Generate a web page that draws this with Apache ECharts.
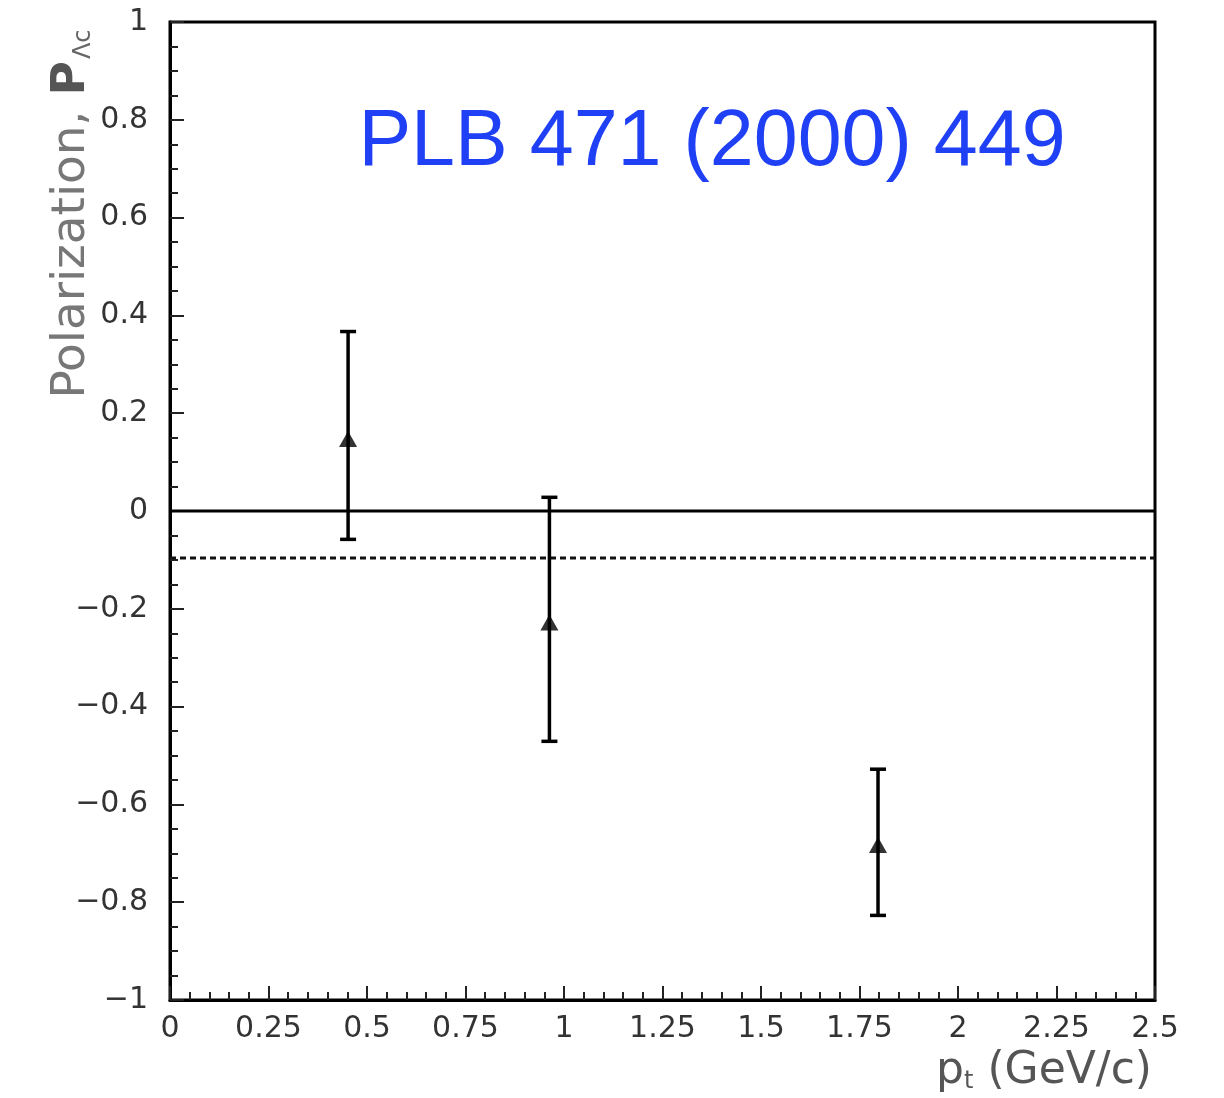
<!DOCTYPE html>
<html>
<head>
<meta charset="utf-8">
<script src="https://cdn.jsdelivr.net/npm/echarts@6/dist/echarts.min.js"></script>
<style>html,body{margin:0;padding:0;background:#fff}#c{width:1224px;height:1098px}</style>
</head>
<body>
<div id="c"></div>
<script>
// Data
var ptValues = [0.452, 0.963, 1.797];
var polValues = [0.147, -0.228, -0.683];
var errHigh = [0.367, 0.028, -0.528];
var errLow = [-0.058, -0.471, -0.827];
var zeroLine = 0;
var dashedLevel = -0.096;
var xRange = [0, 2.5];
var yRange = [-1, 1];

var chart = echarts.init(document.getElementById('c'));
var fmt = function (v) {
  var s = String(Math.round(v * 100) / 100);
  return s.replace('-', '\u2212');
};
var labelFont = 'DejaVu Sans';

var points = ptValues.map(function (x, i) { return [x, polValues[i]]; });
var bars = ptValues.map(function (x, i) { return [x, errLow[i], errHigh[i]]; });

chart.setOption({
  animation: false,
  backgroundColor: '#fff',
  grid: { left: 170, right: 69, top: 22, bottom: 98, show: true, borderColor: '#000', borderWidth: 3, backgroundColor: 'transparent' },
  xAxis: {
    type: 'value', min: xRange[0], max: xRange[1], interval: 0.25,
    axisLine: { show: true, onZero: false, lineStyle: { color: '#000', width: 3 } },
    axisTick: { show: true, inside: true, length: 14, lineStyle: { color: '#222', width: 2 } },
    minorTick: { show: true, splitNumber: 5, length: 8, lineStyle: { color: '#222', width: 2 } },
    splitLine: { show: false },
    axisLabel: { margin: 14, color: '#333', fontSize: 30, fontFamily: labelFont, formatter: fmt }
  },
  yAxis: {
    type: 'value', min: yRange[0], max: yRange[1], interval: 0.2,
    axisLine: { show: true, onZero: false, lineStyle: { color: '#000', width: 3 } },
    axisTick: { show: true, inside: true, length: 14, lineStyle: { color: '#222', width: 2 } },
    minorTick: { show: true, splitNumber: 4, length: 8, lineStyle: { color: '#222', width: 2 } },
    splitLine: { show: false },
    axisLabel: { margin: 22, color: '#333', fontSize: 30, fontFamily: labelFont, formatter: fmt }
  },
  graphic: [
    {
      type: 'text', x: 712, y: 143,
      style: { text: 'PLB 471 (2000) 449', fill: '#1f40f5', font: '79px "Liberation Sans"', textAlign: 'center', textVerticalAlign: 'middle' }
    },
    {
      type: 'text', x: 72, y: 214, rotation: Math.PI / 2,
      style: {
        text: '{a|Polarization, }{b|P}{s|\u039Bc}',
        textAlign: 'center', textVerticalAlign: 'middle',
        rich: {
          a: { fontSize: 47, fontFamily: labelFont, fill: '#777', color: '#777' },
          b: { fontSize: 47, fontFamily: labelFont, fontWeight: 'bold', fill: '#555', color: '#555' },
          s: { fontSize: 24, fontFamily: labelFont, fill: '#666', color: '#666', verticalAlign: 'bottom', padding: [22, 0, 0, 2] }
        }
      }
    },
    {
      type: 'text', x: 1152, y: 1072,
      style: {
        text: '{a|p}{s|t}{a| (GeV/c)}',
        textAlign: 'right', textVerticalAlign: 'middle',
        rich: {
          a: { fontSize: 44, fontFamily: labelFont, fill: '#555', color: '#555' },
          s: { fontSize: 24, fontFamily: labelFont, fill: '#555', color: '#555', verticalAlign: 'bottom', padding: [20, 0, 0, 0] }
        }
      }
    }
  ],
  series: [
    {
      type: 'line', data: [[xRange[0], zeroLine], [xRange[1], zeroLine]],
      symbol: 'none', lineStyle: { color: '#000', width: 3 }, silent: true, z: 3
    },
    {
      type: 'line', data: [[xRange[0], dashedLevel], [xRange[1], dashedLevel]],
      symbol: 'none', lineStyle: { color: '#111', width: 3, type: [6, 4] }, silent: true, z: 3
    },
    {
      type: 'custom', data: bars, z: 4,
      renderItem: function (params, api) {
        var x = api.value(0);
        var lo = api.coord([x, api.value(1)]);
        var hi = api.coord([x, api.value(2)]);
        var hw = 8;
        var st = { stroke: '#000', lineWidth: 3.5 };
        return {
          type: 'group',
          children: [
            { type: 'line', shape: { x1: lo[0], y1: lo[1], x2: hi[0], y2: hi[1] }, style: st },
            { type: 'line', shape: { x1: lo[0] - hw, y1: lo[1], x2: lo[0] + hw, y2: lo[1] }, style: st },
            { type: 'line', shape: { x1: hi[0] - hw, y1: hi[1], x2: hi[0] + hw, y2: hi[1] }, style: st }
          ]
        };
      }
    },
    {
      type: 'scatter', data: points, symbol: 'triangle', symbolSize: [18, 16],
      itemStyle: { color: '#000' }, z: 5
    }
  ]
});
</script>
</body>
</html>
